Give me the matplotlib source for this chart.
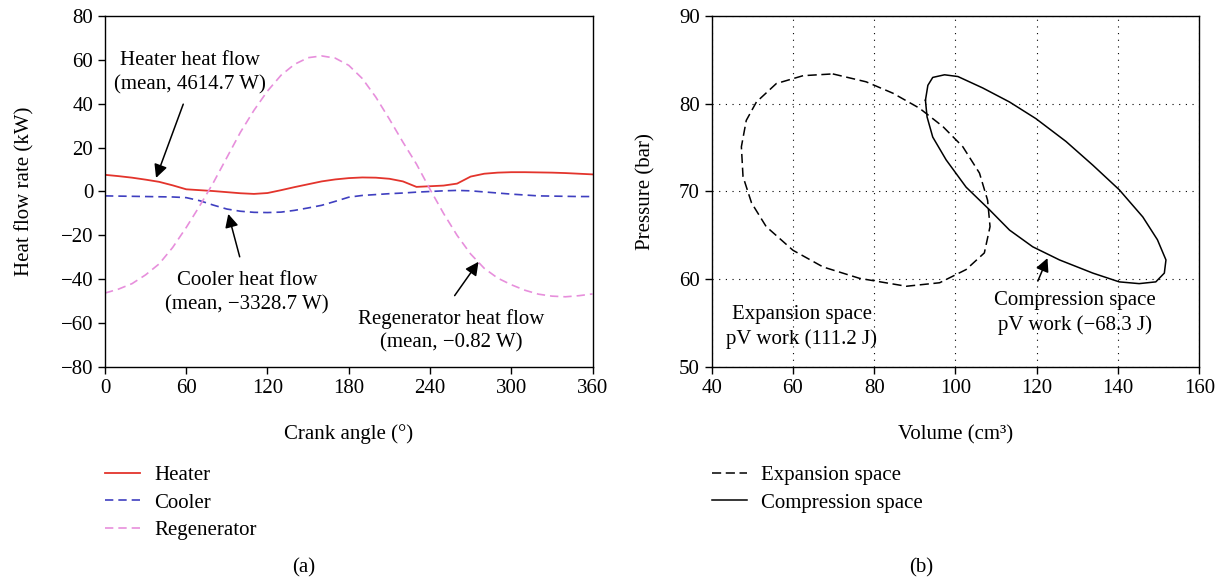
# heat flow and pV diagrams, two panels side by side
import numpy as np
import matplotlib
matplotlib.use("Agg")
import matplotlib.pyplot as plt

plt.rcParams['font.family'] = ['Liberation Serif', 'DejaVu Serif']
plt.rcParams['font.size'] = 15

# (a) heat flow rate vs crank angle
angle = [0, 10, 20, 30, 40, 50, 60, 70, 80, 90, 100, 110, 120, 130, 140, 150,
         160, 170, 180, 190, 200, 210, 220, 230, 240, 250, 260, 270, 280, 290,
         300, 310, 320, 330, 340, 350, 360]
heater = [7.6, 7.0, 6.3, 5.4, 4.4, 2.8, 1.0, 0.6, 0.2, -0.3, -0.8, -1.1, -0.7,
          0.6, 2.0, 3.3, 4.6, 5.5, 6.1, 6.4, 6.3, 5.8, 4.6, 2.1, 2.4, 2.7, 3.6,
          6.8, 8.1, 8.6, 8.8, 8.8, 8.7, 8.6, 8.4, 8.1, 7.8]
cooler = [-2.0, -2.1, -2.2, -2.3, -2.4, -2.5, -2.8, -4.2, -6.2, -8.0, -9.0,
          -9.5, -9.6, -9.4, -8.6, -7.5, -6.3, -4.5, -2.6, -1.8, -1.4, -1.0,
          -0.7, -0.3, 0.0, 0.3, 0.5, 0.3, -0.2, -0.7, -1.2, -1.6, -2.0, -2.1,
          -2.2, -2.3, -2.3]
regenerator = [-46.3, -44.5, -42.0, -38.0, -33.0, -25.5, -16.4, -6.5, 4.0,
               15.5, 27.0, 37.0, 45.8, 53.0, 58.0, 61.0, 61.8, 60.8, 57.5,
               51.5, 43.0, 33.0, 22.5, 12.5, 1.0, -10.0, -20.0, -28.5, -35.0,
               -39.5, -42.5, -45.0, -46.8, -47.7, -48.0, -47.5, -46.7]

# (b) pV loops
exp_vol = [69.8, 78.0, 84.6, 91.1, 96.9, 101.8, 105.9, 107.9, 108.5, 107.1,
           102.6, 96.1, 87.9, 76.4, 67.4, 60.0, 53.4, 49.8, 47.7, 47.3, 48.5,
           51.0, 55.9, 62.5, 69.8]
exp_pres = [83.4, 82.5, 81.2, 79.5, 77.4, 75.1, 72.1, 69.0, 66.0, 63.0, 61.1,
            59.6, 59.2, 60.1, 61.4, 63.3, 66.0, 68.7, 71.7, 75.1, 78.1, 80.2,
            82.3, 83.2, 83.4]
comp_vol = [92.6, 93.2, 94.4, 97.3, 100.6, 106.7, 113.3, 119.8, 127.2, 133.8,
            140.3, 146.1, 149.7, 151.8, 151.4, 149.3, 145.2, 140.3, 133.8,
            125.6, 119.0, 113.3, 108.4, 102.6, 97.7, 94.4, 93.0, 92.6]
comp_pres = [80.4, 82.1, 83.0, 83.3, 83.1, 81.8, 80.2, 78.3, 75.7, 73.0, 70.2,
             67.1, 64.5, 62.2, 60.7, 59.7, 59.5, 59.7, 60.7, 62.2, 63.7, 65.6,
             67.9, 70.5, 73.6, 76.2, 78.5, 80.4]

fig = plt.figure(figsize=(12.25, 5.84), dpi=100)
ax1 = fig.add_axes([0.0857, 0.3716, 0.398, 0.601])
ax2 = fig.add_axes([0.581, 0.3716, 0.398, 0.601])

ax1.plot(angle, heater, color='#e3342c', lw=1.3, label='Heater')
ax1.plot(angle, cooler, color='#3f3fc0', lw=1.2, dashes=(5, 3), label='Cooler')
ax1.plot(angle, regenerator, color='#e78fdc', lw=1.2, dashes=(5, 3),
         label='Regenerator')
ax1.set_xlim(0, 360)
ax1.set_ylim(-80, 80)
ax1.set_xticks(np.arange(0, 361, 60))
ax1.set_yticks(np.arange(-80, 81, 20))
ax1.set_xlabel('Crank angle (°)', labelpad=19)
ax1.set_ylabel('Heat flow rate (kW)', labelpad=19)

arrow = dict(arrowstyle='-|>', color='black', lw=1.1, mutation_scale=20)
ax1.text(62.5, 54, 'Heater heat flow\n(mean, 4614.7 W)', ha='center',
         va='center', linespacing=1.35)
ax1.annotate('', xy=(37, 5), xytext=(58.5, 41), arrowprops=arrow)
ax1.text(105, -46, 'Cooler heat flow\n(mean, \u22123328.7 W)', ha='center',
         va='center', linespacing=1.35)
ax1.annotate('', xy=(90.5, -9), xytext=(100, -31), arrowprops=arrow)
ax1.text(256, -63.5, 'Regenerator heat flow\n(mean, \u22120.82 W)',
         ha='center', va='center', linespacing=1.35)
ax1.annotate('', xy=(277, -31), xytext=(257, -48.5), arrowprops=arrow)

ax2.plot(exp_vol, exp_pres, color='black', lw=1.1, dashes=(6, 3),
         label='Expansion space')
ax2.plot(comp_vol, comp_pres, color='black', lw=1.1, label='Compression space')
ax2.set_xlim(40, 160)
ax2.set_ylim(50, 90)
ax2.set_xticks(np.arange(40, 161, 20))
ax2.set_yticks(np.arange(50, 91, 10))
ax2.grid(True, color='black', lw=0.8, linestyle=(0, (1, 5)))
ax2.set_xlabel('Volume (cm\u00b3)', labelpad=20)
ax2.set_ylabel('Pressure (bar)', labelpad=17)
ax2.text(62.2, 54.6, 'Expansion space\npV work (111.2 J)', ha='center',
         va='center', linespacing=1.35)
ax2.text(129.5, 56.2, 'Compression space\npV work (\u221268.3 J)',
         ha='center', va='center', linespacing=1.35)
ax2.annotate('', xy=(122.9, 62.7), xytext=(120, 59.5), arrowprops=arrow)

for ax in (ax1, ax2):
    ax.tick_params(direction='out', length=5, width=1, labelsize=15)
    for s in ax.spines.values():
        s.set_linewidth(1.0)

leg_kw = dict(loc='upper left', frameon=False, borderpad=0, borderaxespad=0,
              handlelength=1.7, handletextpad=0.65, labelspacing=0.38,
              fontsize=15, bbox_transform=fig.transFigure)
ax1.legend(bbox_to_anchor=(0.0857, 0.203), **leg_kw)
ax2.legend(bbox_to_anchor=(0.581, 0.203), **leg_kw)

fig.text(0.248, 0.028, '(a)', ha='center', va='center', fontsize=15)
fig.text(0.752, 0.028, '(b)', ha='center', va='center', fontsize=15)

fig.savefig('out.png', dpi=100)
